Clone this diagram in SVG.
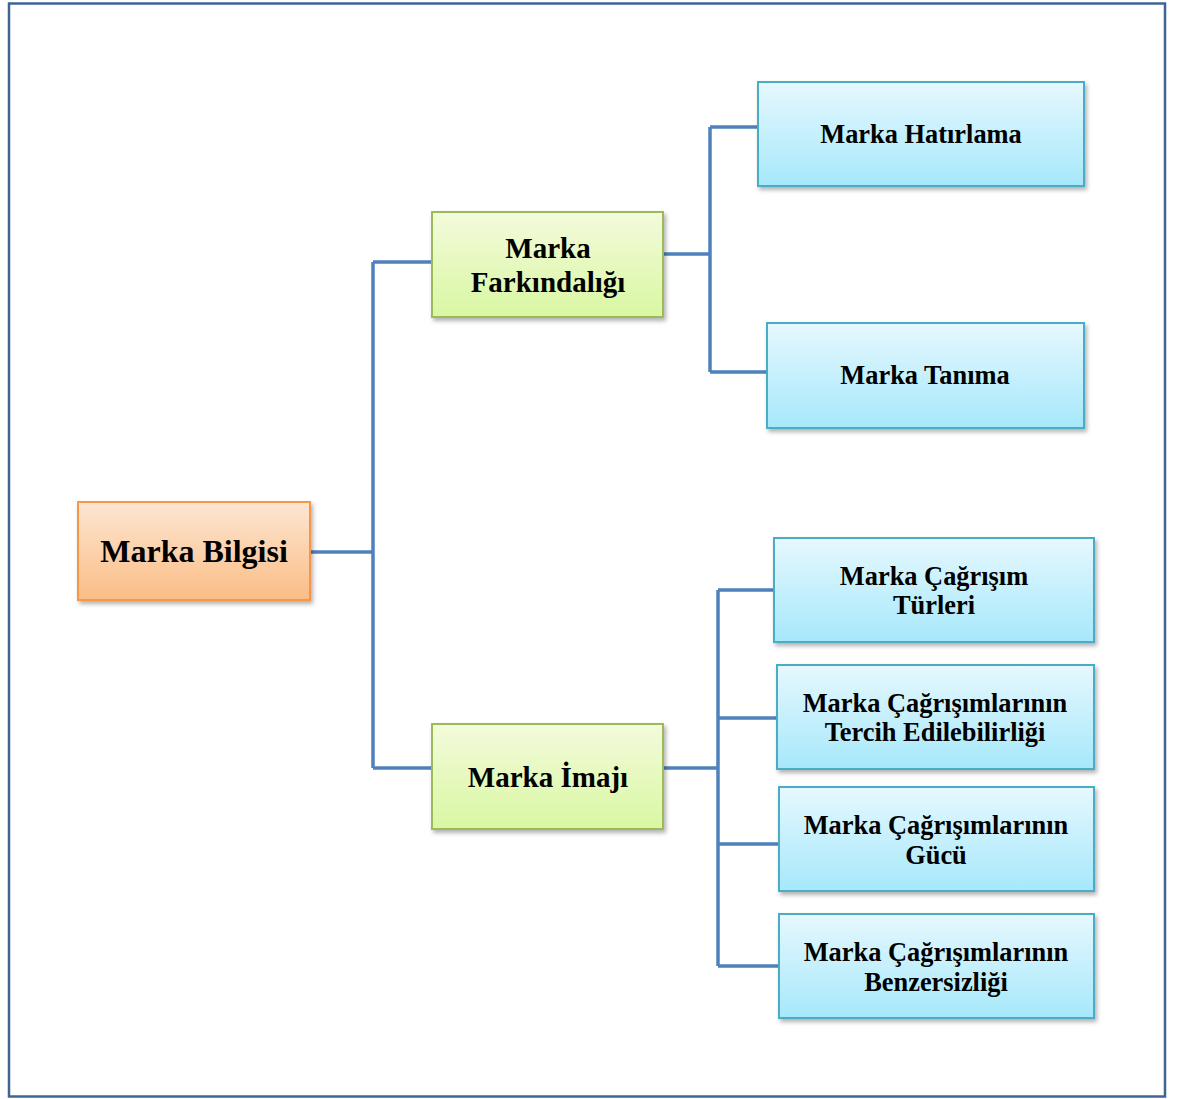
<svg xmlns="http://www.w3.org/2000/svg" width="1178" height="1099" viewBox="0 0 1178 1099">
  <defs>
    <linearGradient id="gOrange" x1="0" y1="0" x2="0" y2="1">
      <stop offset="0" stop-color="#fde6d2"/>
      <stop offset="1" stop-color="#fbbd86"/>
    </linearGradient>
    <linearGradient id="gGreen" x1="0" y1="0" x2="0" y2="1">
      <stop offset="0" stop-color="#f3fbdc"/>
      <stop offset="1" stop-color="#d9f7a2"/>
    </linearGradient>
    <linearGradient id="gBlue" x1="0" y1="0" x2="0" y2="1">
      <stop offset="0" stop-color="#e6f8fe"/>
      <stop offset="1" stop-color="#a6e8fb"/>
    </linearGradient>
    <filter id="shadow" x="-5%" y="-10%" width="115%" height="130%">
      <feDropShadow dx="2" dy="3" stdDeviation="2" flood-color="#000" flood-opacity="0.3"/>
    </filter>
    <style>
      .frame { fill: #fff; stroke: #3e6496; stroke-width: 2.5; }
      .box { stroke-width: 2; filter: url(#shadow); }
      .orange { fill: url(#gOrange); stroke: #f79646; }
      .green { fill: url(#gGreen); stroke: #9bbb59; }
      .blue { fill: url(#gBlue); stroke: #4bacc6; }
      .lbl { font-family: "Liberation Serif", "Times New Roman", serif; font-weight: bold; fill: #000; text-anchor: middle; }
      .sm { font-size: 26.4px; }
      .conn { fill: none; stroke: #4f81bd; stroke-width: 3.5; }
    </style>
  </defs>

  <rect class="frame" x="9" y="3.5" width="1156" height="1093"/>

  <!-- connectors -->
  <g id="connectors">
    <path class="conn" d="M310 552 H373 M373 262 V768 M373 262 H432 M373 768 H432"/>
    <path class="conn" d="M663 254 H710 M710 127 V372 M710 127 H758 M710 372 H767"/>
    <path class="conn" d="M663 768 H718 M718 590 V966 M718 590 H774 M718 718 H777 M718 844 H779 M718 966 H779"/>
  </g>

  <g id="marka-bilgisi">
    <rect class="box orange" x="78" y="502" width="232" height="98"/>
    <text class="lbl" x="194" y="562" font-size="32">Marka Bilgisi</text>
  </g>

  <g id="marka-farkindaligi">
    <rect class="box green" x="432" y="212" width="231" height="105"/>
    <text class="lbl" x="548" y="258" font-size="29">Marka</text>
    <text class="lbl" x="548" y="292" font-size="29">Farkındalığı</text>
  </g>

  <g id="marka-imaji">
    <rect class="box green" x="432" y="724" width="231" height="105"/>
    <text class="lbl" x="548" y="787" font-size="29">Marka İmajı</text>
  </g>

  <g id="marka-hatirlama">
    <rect class="box blue" x="758" y="82" width="326" height="104"/>
    <text class="lbl sm" x="921" y="143">Marka Hatırlama</text>
  </g>

  <g id="marka-tanima">
    <rect class="box blue" x="767" y="323" width="317" height="105"/>
    <text class="lbl sm" x="925" y="384">Marka Tanıma</text>
  </g>

  <g id="cagrisim-turleri">
    <rect class="box blue" x="774" y="538" width="320" height="104"/>
    <text class="lbl sm" x="934" y="585">Marka Çağrışım</text>
    <text class="lbl sm" x="934" y="614">Türleri</text>
  </g>

  <g id="cagrisim-tercih">
    <rect class="box blue" x="777" y="665" width="317" height="104"/>
    <text class="lbl sm" x="935" y="712">Marka Çağrışımlarının</text>
    <text class="lbl sm" x="935" y="741">Tercih Edilebilirliği</text>
  </g>

  <g id="cagrisim-gucu">
    <rect class="box blue" x="779" y="787" width="315" height="104"/>
    <text class="lbl sm" x="936" y="834">Marka Çağrışımlarının</text>
    <text class="lbl sm" x="936" y="864">Gücü</text>
  </g>

  <g id="cagrisim-benzersizligi">
    <rect class="box blue" x="779" y="914" width="315" height="104"/>
    <text class="lbl sm" x="936" y="961">Marka Çağrışımlarının</text>
    <text class="lbl sm" x="936" y="991">Benzersizliği</text>
  </g>
</svg>
